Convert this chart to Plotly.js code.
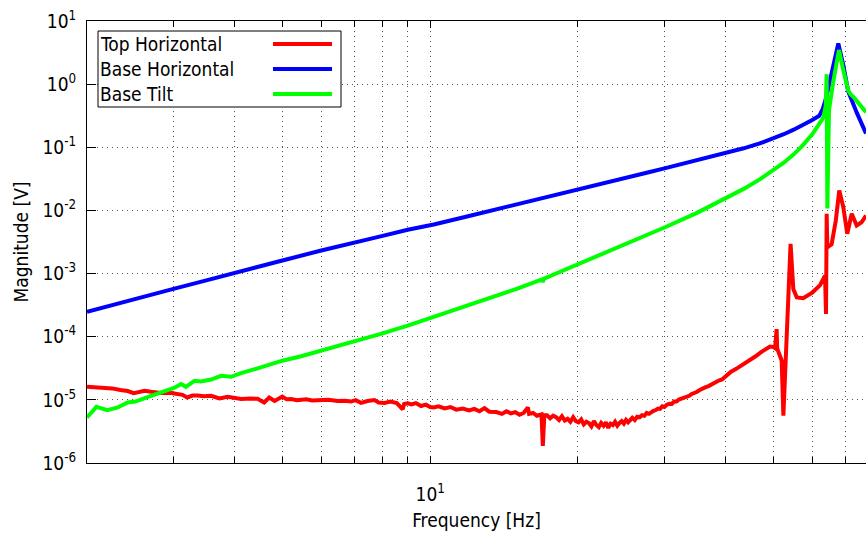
<!DOCTYPE html>
<html>
<head>
<meta charset="utf-8">
<script src="https://cdn.plot.ly/plotly-3.0.1.min.js"></script>
<style>html,body{margin:0;padding:0;background:#fff;}#chart{width:866px;height:536px;}</style>
</head>
<body>
<div id="chart"></div>
<script>
// ---- Data ----
const seriesNames = ['Top Horizontal', 'Base Horizontal', 'Base Tilt'];

const freqTop = [2.00,2.09,2.17,2.25,2.34,2.42,2.49,2.56,2.62,2.70,2.83,2.95,3.06,3.13,3.20,3.28,3.36,3.46,3.58,3.72,3.87,4.00,4.12,4.30,4.45,4.59,4.70,4.82,4.91,5.00,5.10,5.21,5.35,5.46,5.59,5.75,5.99,6.20,6.48,6.70,6.90,7.05,7.23,7.45,7.70,7.85,8.07,8.30,8.55,8.79,8.85,9.00,9.15,9.35,9.58,9.80,10.0,10.17,
  10.4,10.7,11.0,11.3,11.65,12.0,12.3,12.6,12.9,13.2,13.63,14.0,14.3,14.6,14.9,15.2,15.5,15.81,15.9,16.2,16.5,16.85,16.96,17.08,
  17.3,17.55,17.8,18.05,18.3,18.55,18.8,19.05,19.3,19.55,19.8,20.05,20.3,20.55,20.8,21.05,21.3,21.55,21.8,22.05,22.3,22.55,22.8,23.05,23.3,23.55,23.8,24.05,24.3,24.55,24.8,25.05,25.3,25.55,25.8,26.1,26.4,26.7,27.0,27.3,27.6,27.9,28.2,28.5,28.8,29.1,29.4,29.7,30.0,30.35,30.7,31.05,31.4,31.75,32.1,32.5,32.9,33.3,33.7,34.1,34.5,34.9,35.4,35.9,36.4,36.9,37.5,38.1,38.7,39.3,40.0,
  41.0,42.0,43.0,44.0,44.8,46.0,47.2,48.4,49.2,49.96,50.4,50.77,50.9,51.98,52.4,54.2,54.9,55.8,57.5,60.0,62.2,63.7,64.0,64.2,64.4,65.7,67.0,68.1,69.4,70.7,72.2,73.9,75.6,77.2];
const magTop = [1.61e-5,1.58e-5,1.53e-5,1.52e-5,1.43e-5,1.38e-5,1.28e-5,1.33e-5,1.39e-5,1.34e-5,1.28e-5,1.30e-5,1.26e-5,1.20e-5,1.09e-5,1.17e-5,1.17e-5,1.14e-5,1.16e-5,1.05e-5,1.12e-5,1.06e-5,1.03e-5,1.05e-5,1.04e-5,9.1e-6,1.09e-5,9.6e-6,1.05e-5,1.13e-5,1.02e-5,1.03e-5,9.9e-6,1.02e-5,1.02e-5,9.8e-6,9.9e-6,1.0e-5,9.6e-6,9.7e-6,9.4e-6,9.9e-6,8.95e-6,9.6e-6,9.9e-6,9.1e-6,8.95e-6,9.4e-6,8.9e-6,7.1e-6,8.6e-6,8.8e-6,8.5e-6,8.9e-6,8.0e-6,8.4e-6,7.7e-6,7.6e-6,
  7.9e-6,7.3e-6,7.7e-6,7.0e-6,7.3e-6,6.8e-6,7.2e-6,6.6e-6,7.4e-6,6.5e-6,6.4e-6,6.0e-6,6.6e-6,6.1e-6,6.4e-6,5.8e-6,6.2e-6,7.6e-6,6.0e-6,6.2e-6,5.6e-6,5.9e-6,1.86e-6,5.7e-6,
  5.7e-6,5.1e-6,5.6e-6,5.3e-6,4.8e-6,5.5e-6,4.7e-6,5.0e-6,4.5e-6,5.3e-6,4.6e-6,4.4e-6,4.9e-6,4.1e-6,4.5e-6,4.3e-6,3.8e-6,4.6e-6,4.0e-6,3.7e-6,4.3e-6,3.9e-6,4.4e-6,3.6e-6,4.2e-6,4.0e-6,4.5e-6,3.9e-6,4.3e-6,4.6e-6,4.2e-6,4.8e-6,4.4e-6,4.7e-6,5.2e-6,4.8e-6,5.4e-6,5.3e-6,5.7e-6,5.6e-6,6.2e-6,6.0e-6,6.5e-6,6.7e-6,6.9e-6,7.3e-6,7.2e-6,7.9e-6,7.7e-6,8.4e-6,8.7e-6,8.6e-6,9.4e-6,9.4e-6,1.01e-5,1.04e-5,1.09e-5,1.13e-5,1.16e-5,1.24e-5,1.27e-5,1.33e-5,1.43e-5,1.48e-5,1.59e-5,1.65e-5,1.78e-5,1.85e-5,2.02e-5,2.10e-5,2.35e-5,
  2.8e-5,3.1e-5,3.5e-5,3.8e-5,4.16e-5,4.9e-5,5.7e-5,6.4e-5,7.0e-5,6.9e-5,6.6e-5,1.32e-4,6.5e-5,4.2e-5,5.6e-6,2.96e-3,5.7e-4,4.2e-4,4.07e-4,5.0e-4,6.5e-4,9.3e-4,2.3e-4,8.85e-3,2.6e-3,2.9e-3,6.9e-3,0.0207,0.0113,4.27e-3,8.85e-3,5.78e-3,6.5e-3,8.3e-3];

const freqBaseH = [2.00,2.2,2.5,3.0,3.5,4.0,5.0,6.0,7.0,8.0,9.0,10.17,12.0,13.6,15.0,16.96,20.0,22.5,25.5,28.0,30.0,34.86,40.0,43.5,46.9,50.0,52.5,55.0,57.0,60.0,62.0,63.0,64.0,65.0,66.0,67.0,67.8,69.4,71.0,74.0,77.2];
const magBaseH  = [2.49e-4,3.0e-4,3.9e-4,5.71e-4,7.8e-4,1.01e-3,1.61e-3,2.32e-3,3.03e-3,3.96e-3,4.93e-3,6.0e-3,8.15e-3,0.01028,0.01233,0.01549,0.02104,0.02649,0.0338,0.0406,0.0464,0.0617,0.0801,0.0964,0.115,0.1377,0.161,0.19,0.217,0.27,0.315,0.40,0.60,1.0,1.65,2.9,4.43,2.0,0.774,0.347,0.165];

const freqTilt = [2.00,2.09,2.20,2.31,2.42,2.51,2.70,3.00,3.11,3.18,3.31,3.41,3.58,3.75,3.93,4.12,4.45,5.00,5.46,6.00,7.00,8.00,9.00,10.0,12.0,13.63,15.0,16.9,16.96,17.05,20.0,25.5,30.0,34.86,40.0,43.5,46.9,50.0,52.5,55.0,57.2,60.0,62.0,63.2,63.9,64.2,64.4,64.9,66.2,68.0,69.4,71.0,71.8,73.0,77.2];
const magTilt  = [5.25e-6,7.76e-6,6.85e-6,7.59e-6,9.1e-6,9.4e-6,1.16e-5,1.53e-5,1.78e-5,1.61e-5,2.0e-5,1.95e-5,2.1e-5,2.4e-5,2.32e-5,2.65e-5,3.16e-5,4.17e-5,4.9e-5,6.0e-5,8.4e-5,1.13e-4,1.5e-4,1.98e-4,3.13e-4,4.39e-4,5.73e-4,8.09e-4,7.3e-4,8.3e-4,1.40e-3,3.09e-3,5.37e-3,9.08e-3,0.01542,0.02193,0.03097,0.04295,0.0570,0.0774,0.1042,0.16,0.229,0.294,0.45,1.44,0.0107,0.386,1.08,3.47,1.67,0.803,0.693,0.611,0.36];

const xMajorTickVals = [10];
const xMajorTickText = ['10<sup>1</sup>'];
const xMinorTickVals = [3,4,5,6,7,8,9,20,30,40,50,60,70];
const yTickVals = [1e-6,1e-5,1e-4,1e-3,1e-2,1e-1,1,10];
const yTickText = ['10<sup>-6</sup>','10<sup>-5</sup>','10<sup>-4</sup>','10<sup>-3</sup>','10<sup>-2</sup>','10<sup>-1</sup>','10<sup>0</sup>','10<sup>1</sup>'];
const colors = ['#ff0000','#0000ff','#00ff00'];

// ---- Chart ----
const FONT = 'DejaVu Sans Condensed, DejaVu Sans, sans-serif';
const traces = [
  {x: freqTop, y: magTop, name: seriesNames[0]},
  {x: freqBaseH, y: magBaseH, name: seriesNames[1]},
  {x: freqTilt, y: magTilt, name: seriesNames[2]}
].map((t, i) => Object.assign(t, {type: 'scatter', mode: 'lines', line: {color: colors[i], width: 4}, showlegend: false, hoverinfo: 'skip'}));

// paper-coordinate helpers for the hand-built legend (plot area 87..866 x 21..463)
const px = v => (v - 87) / 779;
const py = v => (463 - v) / 442;
const legendRows = [44, 69, 94];
const shapes = [{type: 'rect', xref: 'paper', yref: 'paper', x0: px(98), x1: px(341), y0: py(107), y1: py(31), fillcolor: '#ffffff', line: {color: '#000', width: 1}, layer: 'above'}];
const annotations = [];
seriesNames.forEach((n, i) => {
  shapes.push({type: 'line', xref: 'paper', yref: 'paper', x0: px(273), x1: px(332), y0: py(legendRows[i]), y1: py(legendRows[i]), line: {color: colors[i], width: 4}, layer: 'above'});
  annotations.push({xref: 'paper', yref: 'paper', x: px(98), y: py(legendRows[i]), xanchor: 'left', yanchor: 'middle', text: n, showarrow: false, font: {family: FONT, size: 19, color: '#000'}});
});

const gridStyle = {showgrid: true, gridcolor: '#555', gridwidth: 1, griddash: '1px,4px'};
const axisCommon = Object.assign({type: 'log', showline: true, linecolor: '#000', linewidth: 1, ticks: 'inside', tickcolor: '#000', tickwidth: 1,
  zeroline: false, tickmode: 'array', tickfont: {family: FONT, size: 19, color: '#000'}}, gridStyle);

const layout = {
  width: 866, height: 536,
  margin: {l: 87, r: 0, t: 21, b: 73},
  paper_bgcolor: '#fff', plot_bgcolor: '#fff',
  showlegend: false,
  xaxis: Object.assign({}, axisCommon, {range: [Math.log10(2), Math.log10(77.2)], tickvals: xMajorTickVals, ticktext: xMajorTickText, ticklen: 7, mirror: 'ticks', ticklabelstandoff: 14,
    minor: Object.assign({tickmode: 'array', tickvals: xMinorTickVals, ticks: 'inside', ticklen: 6, tickcolor: '#000', tickwidth: 1}, gridStyle),
    title: {text: 'Frequency [Hz]', font: {family: FONT, size: 19, color: '#000'}, standoff: 9}}),
  yaxis: Object.assign({}, axisCommon, {range: [-6, 1], tickvals: yTickVals, ticktext: yTickText, ticklen: 9, mirror: false, ticklabelstandoff: 6,
    title: {text: 'Magnitude [V]', font: {family: FONT, size: 19, color: '#000'}, standoff: 8}}),
  shapes: shapes,
  annotations: annotations
};

Plotly.newPlot('chart', traces, layout, {displayModeBar: false, staticPlot: true});
</script>
</body>
</html>
